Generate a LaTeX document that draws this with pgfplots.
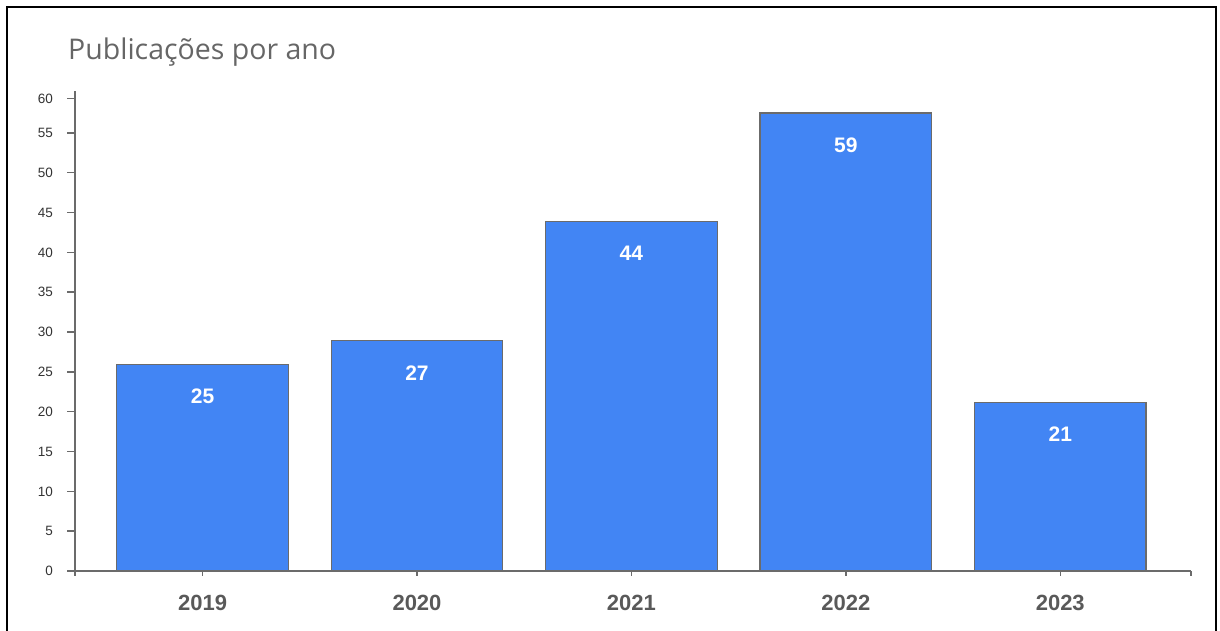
\documentclass[border=0pt]{standalone}
\usepackage{fontspec}
\setmainfont{Liberation Sans}
\newfontfamily\titlefont{Open Sans}
\usepackage{pgfplots}
\pgfplotsset{compat=1.18}
\definecolor{barblue}{HTML}{4285F4}
\definecolor{axgray}{HTML}{6B6B6B}
\definecolor{lblgray}{HTML}{595959}
\definecolor{tickgray}{HTML}{333333}
\definecolor{titlegray}{HTML}{666666}
\begin{document}
\begin{tikzpicture}[x=1pt,y=1pt]
\useasboundingbox (0,0) rectangle (1220,630);
\clip (0,0) rectangle (1220,630);
\draw[line width=2pt,black] (7,-10) -- (7,623) -- (1216,623) -- (1216,-10);
\node[anchor=base west, inner sep=0, text=titlegray, font=\titlefont\fontsize{28.5}{31}\selectfont] at (68,570) {Publicações por ano};
\begin{axis}[
  at={(75pt,59pt)}, anchor=south west,
  scale only axis, width=1116pt, height=479.5pt,
  xmin=-0.595, xmax=4.61, ymin=0, ymax=60.2,
  axis x line=bottom, axis y line=left,
  axis line style={axgray, line width=1.5pt, -},
  every tick/.style={axgray, line width=1.5pt},
  tick align=outside,
  major tick length=8pt,
  xtick={0,1,2,3,4},
  xticklabels={2019,2020,2021,2022,2023},
  xtick style={/pgfplots/major tick length=4.5pt},
  extra x ticks={-0.595,4.61},
  extra x tick labels={},
  extra x tick style={/pgfplots/major tick length=8pt},
  ytick={0,5,10,15,20,25,30,35,40,45,50,55,59.3},
  yticklabels={0,5,10,15,20,25,30,35,40,45,50,55,60},
  xticklabel style={font=\bfseries\fontsize{22}{24}\selectfont, text=lblgray, yshift=-13pt},
  yticklabel style={font=\fontsize{13.5}{15}\selectfont, text=tickgray, xshift=-10.5pt},
  ybar, bar width=171.5pt,
  point meta=explicit symbolic,
  nodes near coords,
  every node near coord/.append style={anchor=center, yshift=-32pt, text=white, font=\bfseries\fontsize{21}{23}\selectfont},
  clip=false,
]
\addplot[fill=barblue, draw=axgray, line width=1.2pt] coordinates {
  (0,25.9) [25]
  (1,28.9) [27]
  (2,43.9) [44]
  (3,57.5) [59]
  (4,21.2) [21]
};
\end{axis}
\end{tikzpicture}
\end{document}
